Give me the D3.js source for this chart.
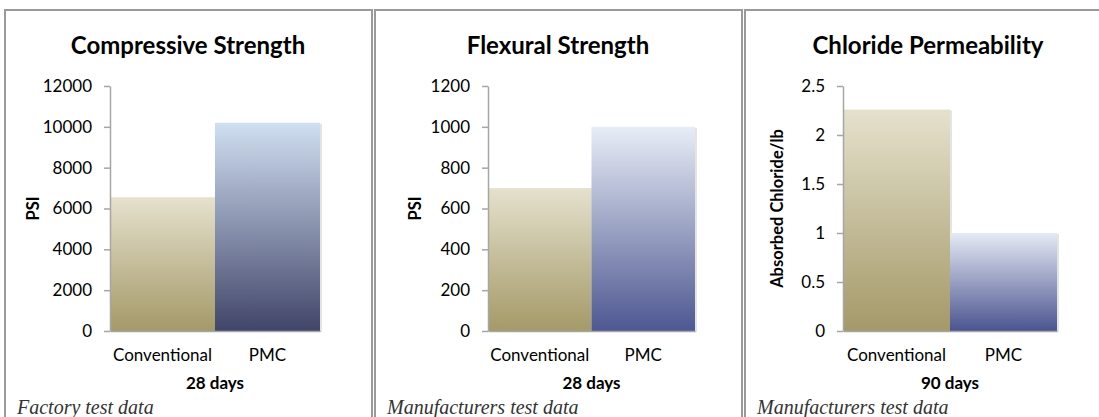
<!DOCTYPE html>
<html>
<head>
<meta charset="utf-8">
<script src="https://cdn.jsdelivr.net/npm/d3@7"></script>
<style>
  body { margin: 0; background: #fff; }
  svg { display: block; }
  text { font-family: Lato, "Open Sans", sans-serif; fill: #000; }
  .axis path, .axis line { stroke: #a6a6a6; stroke-width: 1.5; }
  .axis text { font-family: Lato, sans-serif; }
</style>
</head>
<body>
<svg width="1099" height="417"></svg>
<script>
// data
var categories = ["Conventional", "PMC"];
var compressive = [6550, 10200];
var flexural = [700, 1000];
var chloride = [2.26, 1.0];

var compressiveTicks = [0, 2000, 4000, 6000, 8000, 10000, 12000];
var flexuralTicks = [0, 200, 400, 600, 800, 1000, 1200];
var chlorideTicks = [0, 0.5, 1, 1.5, 2, 2.5];

var titles = ["Compressive Strength", "Flexural Strength", "Chloride Permeability"];
var yTitles = ["PSI", "PSI", "Absorbed Chloride/lb"];
var xTitles = ["28 days", "28 days", "90 days"];
var notes = ["Factory test data", "Manufacturers test data", "Manufacturers test data"];

// layout for each panel (not data)
var panels = [
  {left: 5,   x0: 110, x1: 320, yt: 33,  values: compressive, ticks: compressiveTicks, pmc: ["#d0dff1", "#414569"]},
  {left: 375, x0: 488, x1: 695, yt: 415, values: flexural,    ticks: flexuralTicks,    pmc: ["#e7edf6", "#4e5791"]},
  {left: 745, x0: 843, x1: 1057, yt: 777, values: chloride,   ticks: chlorideTicks,    pmc: ["#e5eaf4", "#4b5490"]}
];
var conv = ["#e5e1cd", "#a49968"];
var plotTop = 86, plotBottom = 331;

var svg = d3.select("svg");
var defs = svg.append("defs");

function grad(id, c) {
  var g = defs.append("linearGradient").attr("id", id)
    .attr("x1", 0).attr("y1", 0).attr("x2", 0).attr("y2", 1);
  g.append("stop").attr("offset", "0%").attr("stop-color", c[0]);
  g.append("stop").attr("offset", "100%").attr("stop-color", c[1]);
}
grad("conv", conv);

panels.forEach(function(p, i) {
  grad("pmc" + i, p.pmc);

  // frame
  svg.append("rect")
    .attr("x", p.left).attr("y", 10)
    .attr("width", 367).attr("height", 420)
    .attr("fill", "none").attr("stroke", "#9a9a9a").attr("stroke-width", 2);

  var x = d3.scaleBand().domain(categories).range([p.x0, p.x1]).padding(0);
  var y = d3.scaleLinear().domain([0, d3.max(p.ticks)]).range([plotBottom, plotTop]);

  var g = svg.append("g");

  // faint shadow on the right of each bar
  g.selectAll("rect.shadow")
    .data(p.values)
    .enter()
    .append("rect")
    .attr("class", "shadow")
    .attr("x", function(d, j) { return x(categories[j]) + 2; })
    .attr("y", function(d) { return y(d) + 1; })
    .attr("width", x.bandwidth())
    .attr("height", function(d) { return y(0) - y(d); })
    .attr("fill", "#e4e4e4");

  g.selectAll("rect.bar")
    .data(p.values)
    .enter()
    .append("rect")
    .attr("class", "bar")
    .attr("x", function(d, j) { return x(categories[j]); })
    .attr("y", function(d) { return y(d); })
    .attr("width", x.bandwidth())
    .attr("height", function(d) { return y(0) - y(d); })
    .attr("fill", function(d, j) { return j == 0 ? "url(#conv)" : "url(#pmc" + i + ")"; });

  g.append("g").attr("class", "axis")
    .attr("transform", "translate(" + p.x0 + ",0)")
    .call(d3.axisLeft(y).tickValues(p.ticks).tickFormat(function(d) { return String(d); })
      .tickSize(6).tickSizeOuter(0).tickPadding(12))
    .selectAll("text").style("font-size", "17px");

  var xa = g.append("g").attr("class", "axis")
    .attr("transform", "translate(0," + plotBottom + ")")
    .call(d3.axisBottom(x).tickSize(0).tickSizeOuter(0).tickPadding(18));
  xa.selectAll("text").style("font-size", "17px");

  // title
  svg.append("text")
    .attr("x", p.left + 183).attr("y", 54)
    .attr("text-anchor", "middle")
    .style("font-size", "24px").style("font-weight", "bold")
    .text(titles[i]);

  // y title
  svg.append("text")
    .attr("transform", "translate(" + (p.yt + 6) + "," + ((plotTop + plotBottom) / 2) + ") rotate(-90)")
    .attr("text-anchor", "middle")
    .style("font-size", "16.5px").style("font-weight", "bold")
    .text(yTitles[i]);

  // x title
  svg.append("text")
    .attr("x", (p.x0 + p.x1) / 2).attr("y", 389)
    .attr("text-anchor", "middle")
    .style("font-size", "17px").style("font-weight", "bold")
    .text(xTitles[i]);

  // note
  svg.append("text")
    .attr("x", p.left + 12).attr("y", 414)
    .style("font-family", "'Liberation Serif', serif")
    .style("font-style", "italic")
    .style("font-size", "20px")
    .style("fill", "#333")
    .text(notes[i]);
});
</script>
</body>
</html>
